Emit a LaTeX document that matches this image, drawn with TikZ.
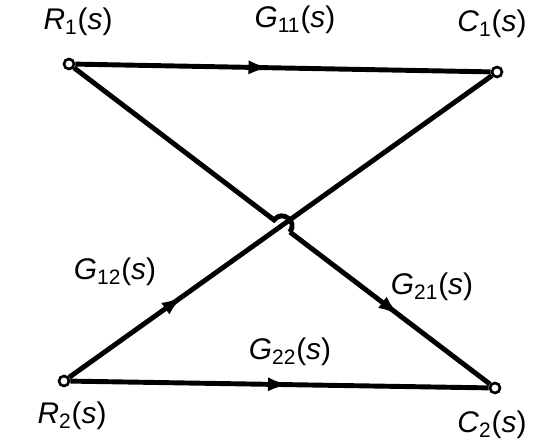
\documentclass[tikz,border=0pt]{standalone}
\usepackage{fontspec}
\setmainfont{Liberation Sans}
\usetikzlibrary{arrows.meta,positioning,calc,decorations.markings}

\begin{document}
\begin{tikzpicture}[x=0.02cm,y=0.02cm,font=\fontsize{17}{19}\selectfont,
 term/.style={draw,circle,fill=white,inner sep=0pt,minimum size=2mm,line width=1.5pt},
 sig/.style={line width=2.8pt,postaction={decorate},
  decoration={markings,mark=at position #1 with {\arrow{Latex[length=4.4mm,width=2.8mm]}}}},
 sig/.default=0.5,
 lab/.style={inner sep=0pt}]
 \useasboundingbox (0,0) rectangle (533,446);
 % input and output points
 \node[term] (r1) at (69,382) {};
 \node[term] (c1) at (497,374) {};
 \node[term] (r2) at (64,65) {};
 \node[term] (c2) at (495,58) {};
 \node[lab] (r1l) at (78,424) {\textit{R}\textsubscript{1}(\textit{s})};
 \node[lab] (c1l) at (492,422) {\textit{C}\textsubscript{1}(\textit{s})};
 \node[lab] (r2l) at (72,30) {\textit{R}\textsubscript{2}(\textit{s})};
 \node[lab] (c2l) at (492,21) {\textit{C}\textsubscript{2}(\textit{s})};
 \node[lab] (g11) at (295,426) {\textit{G}\textsubscript{11}(\textit{s})};
 \node[lab] (g12) at (115,174) {\textit{G}\textsubscript{12}(\textit{s})};
 \node[lab] (g21) at (432,159) {\textit{G}\textsubscript{21}(\textit{s})};
 \node[lab] (g22) at (290,94) {\textit{G}\textsubscript{22}(\textit{s})};
 % branches
 \draw[sig=0.47] (r1) -- (c1);
 \draw[sig=0.525] (r2) -- (c2);
 \draw[sig=0.27] (r2) -- (c1);
 % crossing with hop
 \coordinate (x) at ($(r1)!0.5!(c2)$);
 \coordinate (hs) at ($(x)!0.2cm!(r1)$);
 \coordinate (he) at ($(x)!0.2cm!(c2)$);
 \draw[line width=2.8pt] (r1) -- (hs) to[out=52.7,in=52.7,looseness=1.7] (he);
 \draw[sig=0.55] (he) -- (c2);
\end{tikzpicture}
\end{document}
